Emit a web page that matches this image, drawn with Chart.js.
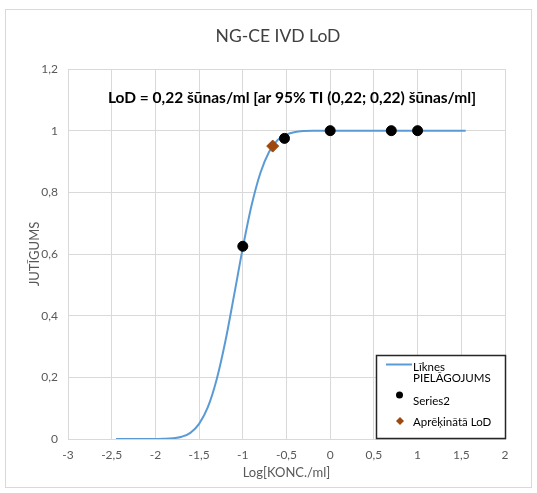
<!DOCTYPE html>
<html><head><meta charset="utf-8">
<script src="https://cdn.jsdelivr.net/npm/chart.js@4/dist/chart.umd.min.js"></script>
<style>html,body{margin:0;padding:0;background:#fff}#wrap{width:537px;height:493px;position:relative}</style>
</head><body><div id="wrap"><canvas id="c" width="537" height="493"></canvas></div>
<script>
// ---- data ----
const chartTitle = 'NG-CE IVD LoD';
const annotationText = 'LoD = 0,22 šūnas/ml [ar 95% TI (0,22; 0,22) šūnas/ml]';
const xAxisTitle = 'Log[KONC./ml]';
const yAxisTitle = 'JUTĪGUMS';
const seriesNames = ['Līknes\nPIELĀGOJUMS', 'Series2', 'Aprēķinātā LoD'];

const curveX = [-2.45,-2.3,-2.1,-2.0,-1.9,-1.8,-1.7,-1.6,-1.5,-1.4,-1.3,-1.2,-1.1,-1.0,-0.9,-0.8,-0.7,-0.6,-0.5,-0.4,-0.3,-0.2,0,0.5,1,1.55];
const curveY = [0,0,0,0.0002,0.0006,0.0023,0.0073,0.020,0.049,0.103,0.192,0.316,0.466,0.620,0.757,0.862,0.931,0.970,0.988,0.996,0.999,1,1,1,1,1];
const obsX = [-1, -0.523, 0, 0.699, 1];
const obsY = [0.625, 0.975, 1, 1, 1];
const lodX = [-0.658];
const lodY = [0.95];
const xTicks = [-3,-2.5,-2,-1.5,-1,-0.5,0,0.5,1,1.5,2];
const yTicks = [0,0.2,0.4,0.6,0.8,1,1.2];

const toPts = (xs, ys) => xs.map((x, i) => ({x, y: ys[i]}));
const fmt = v => String(v).replace('.', ',');
const FONT = 'Lato, "Open Sans", sans-serif';
const LINE = '#5b9bd5', DOT = '#000000', LOD = '#9e480e', GRID = '#d9d9d9', TXT = '#595959';

const decor = {
  id: 'decor',
  beforeDraw(chart) {
    const ctx = chart.ctx;
    ctx.save();
    ctx.fillStyle = '#fff';
    ctx.fillRect(0, 0, chart.width, chart.height);
    ctx.strokeStyle = '#d9d9d9';
    ctx.lineWidth = 1;
    ctx.strokeRect(5.5, 9.5, 526, 478);
    ctx.restore();
  },
  afterDraw(chart) {
    const ctx = chart.ctx;
    ctx.save();
    // title
    ctx.fillStyle = '#404040';
    ctx.font = '17.5px ' + FONT;
    ctx.textAlign = 'center';
    ctx.textBaseline = 'middle';
    ctx.fillText(chartTitle, 278, 36);
    // annotation
    ctx.fillStyle = '#000';
    ctx.font = 'bold 15.5px ' + FONT;
    ctx.fillText(annotationText, 292, 98);
    // legend
    const bx = 376, by = 355, bw = 129, bh = 83;
    ctx.fillStyle = '#fff';
    ctx.fillRect(bx, by, bw, bh);
    ctx.strokeStyle = '#262626';
    ctx.lineWidth = 1.5;
    ctx.strokeRect(bx + 0.5, by + 0.5, bw, bh);
    ctx.font = '11.5px ' + FONT;
    ctx.textAlign = 'left';
    ctx.fillStyle = '#000';
    // line entry
    ctx.strokeStyle = LINE; ctx.lineWidth = 2;
    ctx.beginPath(); ctx.moveTo(386, 364.5); ctx.lineTo(412, 364.5); ctx.stroke();
    const l0 = seriesNames[0].split('\n');
    ctx.fillText(l0[0], 413, 367);
    ctx.fillText(l0[1], 413, 378);
    // dot entry
    ctx.fillStyle = DOT;
    ctx.beginPath(); ctx.arc(399.5, 395, 3.5, 0, Math.PI * 2); ctx.fill();
    ctx.fillText(seriesNames[1], 413, 401);
    // diamond entry
    ctx.fillStyle = LOD;
    ctx.beginPath(); ctx.moveTo(400, 417); ctx.lineTo(404, 421); ctx.lineTo(400, 425); ctx.lineTo(396, 421); ctx.closePath(); ctx.fill();
    ctx.fillStyle = '#000';
    ctx.fillText(seriesNames[2], 413, 422);
    ctx.restore();
  }
};

new Chart(document.getElementById('c'), {
  type: 'scatter',
  data: {
    datasets: [
      { label: seriesNames[1], data: toPts(obsX, obsY), backgroundColor: DOT, borderColor: DOT, pointRadius: 5, pointHoverRadius: 5, order: 2 },
      { label: seriesNames[2], data: toPts(lodX, lodY), backgroundColor: LOD, borderColor: LOD, pointStyle: 'rectRot', pointRadius: 6, pointHoverRadius: 6, order: 1 },
      { label: seriesNames[0], data: toPts(curveX, curveY), showLine: true, borderColor: LINE, borderWidth: 2, pointRadius: 0, fill: false, cubicInterpolationMode: 'monotone', order: 3 }
    ]
  },
  options: {
    responsive: false,
    animation: false,
    devicePixelRatio: 1,
    layout: { padding: { top: 69, right: 32, bottom: 0, left: 0 } },
    plugins: { legend: { display: false }, title: { display: false }, tooltip: { enabled: false } },
    scales: {
      x: {
        type: 'linear', min: -3, max: 2,
        afterBuildTicks: s => { s.ticks = xTicks.map(v => ({value: v})); },
        afterFit: s => { s.height = 54; },
        ticks: { color: TXT, font: { size: 12, family: FONT }, padding: 9, callback: v => fmt(v), maxRotation: 0 },
        grid: { color: GRID, drawTicks: false, lineWidth: 1 },
        border: { color: GRID },
        title: { display: true, text: xAxisTitle, color: TXT, font: { size: 13, family: FONT }, padding: { top: 0, bottom: 12 } }
      },
      y: {
        type: 'linear', min: 0, max: 1.2,
        afterBuildTicks: s => { s.ticks = yTicks.map(v => ({value: v})); },
        afterFit: s => { s.width = 68; },
        ticks: { color: TXT, font: { size: 12, family: FONT }, padding: 10, callback: v => fmt(v) },
        grid: { color: GRID, drawTicks: false, lineWidth: 1 },
        border: { color: GRID },
        title: { display: true, text: yAxisTitle, color: TXT, font: { size: 13, family: FONT }, padding: { top: 27, bottom: 0 } }
      }
    }
  },
  plugins: [decor]
});
</script>
</body></html>
